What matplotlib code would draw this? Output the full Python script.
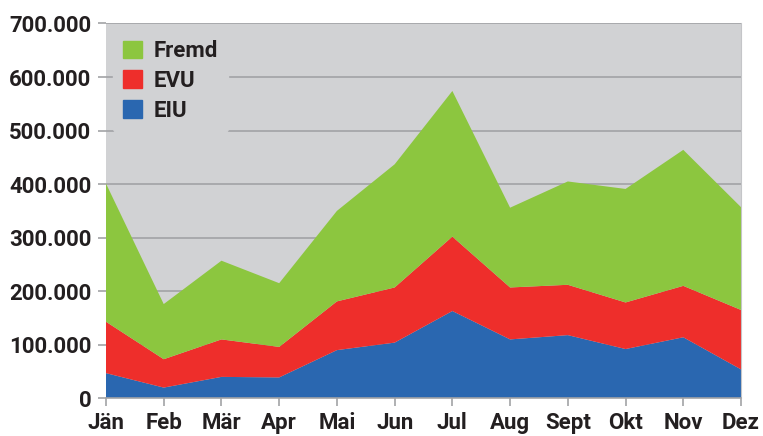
import matplotlib
matplotlib.use("Agg")
import matplotlib.pyplot as plt
from matplotlib.ticker import FuncFormatter
from matplotlib.patches import Patch

# --- DATEN (Werte pro Monat, nicht kumuliert) ---
monate = ['Jän', 'Feb', 'Mär', 'Apr', 'Mai', 'Jun', 'Jul', 'Aug', 'Sept', 'Okt', 'Nov', 'Dez']
eiu = [47000, 20000, 40000, 39000, 90000, 104000, 163000, 110000, 118000, 92000, 114000, 54000]
evu = [96000, 53000, 70000, 57000, 91000, 103000, 139000, 97000, 94000, 87000, 96000, 111000]
fremd = [258000, 103000, 147000, 119000, 169000, 230000, 272000, 149000, 193000, 212000, 254000, 192000]

# --- FARBEN ---
c_eiu = '#2a67b0'
c_evu = '#ee2e2b'
c_fremd = '#8cc63f'
c_bg = '#d1d2d4'
c_grid = '#a2a3a6'
c_text = '#231f20'

plt.rcParams['font.family'] = ['Roboto', 'DejaVu Sans']
plt.rcParams['font.weight'] = 'bold'

fig = plt.figure(figsize=(7.63, 4.36), dpi=100)
ax = fig.add_axes([106 / 763, 37.7 / 436, 635 / 763, 374.8 / 436])
ax.set_facecolor(c_bg)

x = list(range(len(monate)))
ax.stackplot(x, eiu, evu, fremd, colors=[c_eiu, c_evu, c_fremd], linewidth=0)

ax.set_xlim(0, len(monate) - 1)
ax.set_ylim(0, 700000)
ax.set_yticks(range(0, 700001, 100000))
ax.yaxis.set_major_formatter(FuncFormatter(lambda v, p: f"{v:,.0f}".replace(",", ".")))
ax.set_xticks(x)
ax.set_xticklabels(monate)

ax.set_axisbelow(True)
ax.yaxis.grid(True, color=c_grid, linewidth=1.2)
ax.tick_params(axis='y', length=5.5, width=1.2, color=c_grid, pad=5,
               labelsize=16, labelcolor=c_text)
ax.tick_params(axis='x', length=5.5, width=1.2, color=c_grid, pad=4.5,
               labelsize=16, labelcolor=c_text)

for s in ['left', 'top']:
    ax.spines[s].set_visible(False)
ax.spines['bottom'].set_color(c_grid)
ax.spines['bottom'].set_linewidth(1.2)
ax.spines['right'].set_color('#c4c5c8')

handles = [Patch(color=c_fremd, label='Fremd'),
           Patch(color=c_evu, label='EVU'),
           Patch(color=c_eiu, label='EIU')]
leg = ax.legend(handles=handles, loc='upper left', fontsize=16,
                frameon=True, facecolor=c_bg, edgecolor=c_bg, framealpha=1,
                handlelength=0.85, handleheight=0.85, handletextpad=0.55,
                labelspacing=0.35, borderpad=0.45, borderaxespad=0.3)
for t in leg.get_texts():
    t.set_color(c_text)

fig.savefig('out.png', dpi=100)
